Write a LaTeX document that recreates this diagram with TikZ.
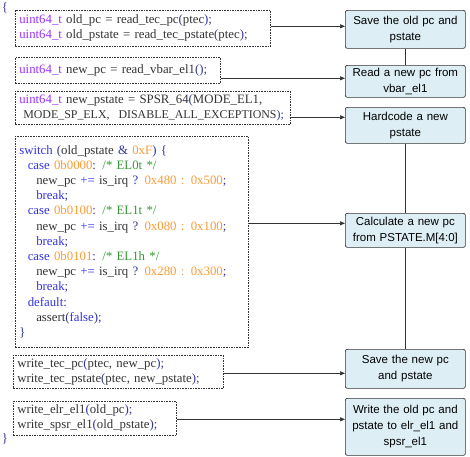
\documentclass[tikz,border=0pt]{standalone}
\usepackage{fontspec}
\setmainfont{Liberation Serif}
\setsansfont{Liberation Sans}
\usetikzlibrary{arrows.meta, positioning, calc}
\definecolor{ctype}{HTML}{9933FF}
\definecolor{ckey}{HTML}{3333DD}
\definecolor{cpunct}{HTML}{333399}
\definecolor{cnum}{HTML}{FF9933}
\definecolor{ccom}{HTML}{339933}
\definecolor{ctext}{HTML}{333333}
\definecolor{cfill}{HTML}{DDEEF5}
\definecolor{cline}{HTML}{333333}
\newcommand{\ty}[1]{\textcolor{ctype}{#1}}
\newcommand{\kw}[1]{\textcolor{ckey}{#1}}
\newcommand{\pu}[1]{\textcolor{cpunct}{#1}}
\newcommand{\nm}[1]{\textcolor{cnum}{#1}}
\newcommand{\cm}[1]{\textcolor{ccom}{#1}}
\newcommand{\ind}{\hspace*{8.5pt}}
\tikzset{
  every picture/.style={line width=0.7pt},
  code/.style={draw=cline, dash pattern=on 1.6pt off 1pt, line width=0.6pt, anchor=north west, align=left, inner xsep=4pt, inner ysep=2pt, font=\rmfamily\fontsize{12.8}{15.2}\selectfont, text=ctext},
  stepbox/.style={draw=cline, fill=cfill, rounded corners=2pt, anchor=north west, align=center, inner xsep=1pt, inner ysep=1pt, text width=118pt, font=\sffamily\fontsize{11.5}{16}\selectfont},
  brace/.style={font=\rmfamily\fontsize{12.8}{13}\selectfont, text=cpunct, inner sep=0pt},
  arrow/.style={-{Triangle[length=5pt, width=4pt]}, draw=cline},
  wire/.style={draw=cline},
}

\begin{document}
\begin{tikzpicture}[x=1pt, y=-1pt]
  \useasboundingbox (0,0) rectangle (470,456);
  % code on the left
  \node[brace] (open) at (5,8) {\{};
  \node[code, text width=247pt, minimum height=36pt] (code1) at (15,10)
    {\ty{uint64\_t} old\_pc = read\_tec\_pc\pu{(}ptec\pu{);}\\
     \ty{uint64\_t} old\_pstate = read\_tec\_pstate\pu{(}ptec\pu{);}};
  \node[code, text width=197pt, minimum height=26pt] (code2) at (15,57)
    {\ty{uint64\_t} new\_pc = read\_vbar\_el1\pu{();}};
  \node[code, text width=267pt, minimum height=33pt] (code3) at (15,91)
    {\ty{uint64\_t} new\_pstate = SPSR\_64\pu{(}MODE\_EL1,\\
     \mbox{\fontsize{11.9}{15.2}\selectfont\hspace*{4pt}MODE\_SP\_ELX,\hspace{9pt}DISABLE\_ALL\_EXCEPTIONS\pu{);}}};
  \node[code, text width=225pt, minimum height=211pt] (code4) at (15,136)
    {\kw{switch} \pu{(}old\_pstate \pu{\&} \nm{0xF}\pu{) \{}\\
     \ind\kw{case} \nm{0b0000}\pu{:} \cm{/* EL0t */}\\
     \ind\ind new\_pc \kw{+=} is\_irq \pu{?} \nm{0x480 : 0x500}\pu{;}\\
     \ind\ind\kw{break}\pu{;}\\
     \ind\kw{case} \nm{0b0100}\pu{:} \cm{/* EL1t */}\\
     \ind\ind new\_pc \kw{+=} is\_irq \pu{?} \nm{0x080 : 0x100}\pu{;}\\
     \ind\ind\kw{break}\pu{;}\\
     \ind\kw{case} \nm{0b0101}\pu{:} \cm{/* EL1h */}\\
     \ind\ind new\_pc \kw{+=} is\_irq \pu{?} \nm{0x280 : 0x300}\pu{;}\\
     \ind\ind\kw{break}\pu{;}\\
     \ind\kw{default}\pu{:}\\
     \ind\ind assert\pu{(}\kw{false}\pu{);}\\
     \pu{\}}};
  \node[code, text width=202pt, minimum height=33pt] (code5) at (13,355)
    {write\_tec\_pc\pu{(}ptec, new\_pc\pu{);}\\
     write\_tec\_pstate\pu{(}ptec, new\_pstate\pu{);}};
  \node[code, text width=155pt, minimum height=34pt] (code6) at (13,401)
    {write\_elr\_el1\pu{(}old\_pc\pu{);}\\
     write\_spsr\_el1\pu{(}old\_pstate\pu{);}};
  \node[brace] (close) at (5,439) {\}};
  % steps on the right
  \node[stepbox, minimum height=38pt] (saveold) at (345,10) {Save the old pc and\\pstate};
  \node[stepbox, minimum height=32pt] (readpc) at (345,65) {Read a new pc from\\vbar\_el1};
  \node[stepbox, minimum height=36pt] (hardcode) at (345,107) {Hardcode a new\\pstate};
  \node[stepbox, minimum height=34pt] (calcpc) at (345,213) {Calculate a new pc\\from PSTATE.M[4:0]};
  \node[stepbox, minimum height=39pt] (savenew) at (345,349) {Save the new pc\\and pstate};
  \node[stepbox, minimum height=57pt] (writeold) at (345,398) {Write the old pc and\\pstate to elr\_el1 and\\spsr\_el1};
  \draw[wire] (saveold) -- (readpc);
  \draw[wire] (hardcode) -- (calcpc);
  \draw[wire] (calcpc) -- (savenew);
  % links
  \draw[arrow] ($(code1.east)+(0,-2)$) -- ($(code1.east -| saveold.west)+(0,-2)$);
  \draw[arrow] ($(code2.east)+(0,8)$) -- ($(code2.east -| readpc.west)+(0,8)$);
  \draw[arrow] ($(code3.east)+(0,9.5)$) -- ($(code3.east -| hardcode.west)+(0,9.5)$);
  \draw[arrow] ($(code4.east)+(0,-18.5)$) -- ($(code4.east -| calcpc.west)+(0,-18.5)$);
  \draw[arrow] ($(code5.east)+(0,1.5)$) -- ($(code5.east -| savenew.west)+(0,1.5)$);
  \draw[arrow] ($(code6.east)+(0,1)$) -- ($(code6.east -| writeold.west)+(0,1)$);
\end{tikzpicture}
\end{document}
